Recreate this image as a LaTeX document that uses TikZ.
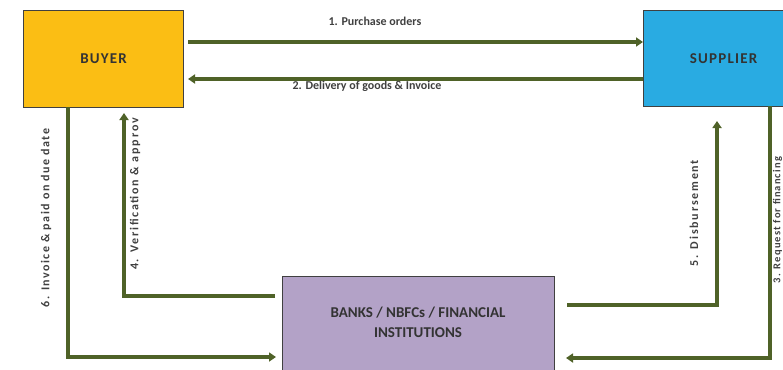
\documentclass[tikz,border=0pt]{standalone}
\usepackage{fontspec}
\setmainfont{Carlito}
\usetikzlibrary{arrows.meta}
\definecolor{buyerc}{HTML}{FBBE14}
\definecolor{supc}{HTML}{29ABE2}
\definecolor{bankc}{HTML}{B3A2C7}
\definecolor{arrc}{HTML}{4F6228}
\definecolor{edgec}{HTML}{404040}
\tikzset{
  box/.style={draw=edgec, line width=1.2pt, inner sep=0pt, anchor=north west, font=\fontsize{15}{18}\selectfont\bfseries\addfontfeatures{LetterSpace=8}, text=black!80, align=center},
  flow/.style={draw=arrc, line width=3.2pt, -{Triangle[length=7pt,width=9pt]}},
  lab/.style={font=\fontsize{12}{14}\selectfont\bfseries, text=black!75, inner sep=0pt},
  wide/.style={font=\fontsize{12}{14}\selectfont\bfseries\addfontfeatures{LetterSpace=15}},
}
\begin{document}
\begin{tikzpicture}[x=1pt,y=-1pt]
\useasboundingbox (0,0) rectangle (783,369);
\node[box, fill=buyerc, minimum width=160pt, minimum height=97pt] (buyer) at (23,10) {BUYER};
\node[box, fill=supc, minimum width=160pt, minimum height=96pt] (supplier) at (643,10) {SUPPLIER};
\node[box, fill=bankc, minimum width=272pt, minimum height=96pt] (bank) at (282,276) {};
\node[font=\fontsize{15}{20}\selectfont\bfseries, text=black!80, align=center] (banktxt) at (418,322) {BANKS / NBFCs / FINANCIAL\\INSTITUTIONS};
% coordinates
\coordinate (a1s) at (188,42); \coordinate (a1e) at (643,42);
\coordinate (a2s) at (643,79); \coordinate (a2e) at (188,79);
\coordinate (c6a) at (68,107); \coordinate (c6b) at (68,357); \coordinate (c6e) at (276,357);
\coordinate (c4s) at (275,296); \coordinate (c4b) at (124,296); \coordinate (c4e) at (124,113);
\coordinate (c5s) at (567,305); \coordinate (c5b) at (717,305); \coordinate (c5e) at (717,121);
\coordinate (c3s) at (770,106); \coordinate (c3b) at (770,358); \coordinate (c3e) at (566,358);
\draw[flow] (a1s) -- (a1e);
\draw[flow] (a2s) -- (a2e);
\draw[flow] (c6a) -- (c6b) -- (c6e);
\draw[flow] (c4s) -- (c4b) -- (c4e);
\draw[flow] (c5s) -- (c5b) -- (c5e);
\draw[flow] (c3s) -- (c3b) -- (c3e);
\node[lab] (l1) at (375,21) {1. Purchase orders};
\node[lab] (l2) at (367,86) {2. Delivery of goods \& Invoice};
\node[lab, rotate=90, font=\fontsize{12}{14}\selectfont\bfseries\addfontfeatures{LetterSpace=12}] (l6) at (46,218) {6. Invoice \& paid on due date};
\node[lab, wide, rotate=90] (l4) at (135,194) {4. Verification \& approv};
\node[lab, wide, rotate=90] (l5) at (694,213) {5. Disbursement};
\node[lab, rotate=90, font=\fontsize{10.5}{12}\selectfont\bfseries\addfontfeatures{LetterSpace=11}] (l3) at (777.6,220) {3. Request for financing};
\end{tikzpicture}
\end{document}
